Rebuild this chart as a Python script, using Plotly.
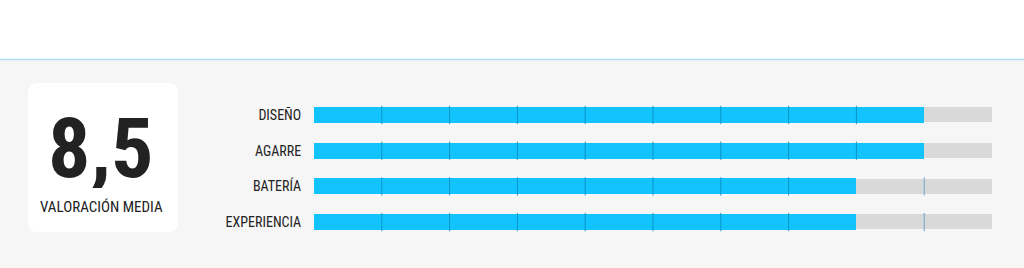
import plotly.graph_objects as go

categories = ["DISEÑO", "AGARRE", "BATERÍA", "EXPERIENCIA"]
scores = [9, 9, 8, 8]
max_score = 10
divider_steps = [1, 2, 3, 4, 5, 6, 7, 8, 9]
summary_label = "VALORACIÓN MEDIA"

W, H = 1024, 268
FONT = "Liberation Sans Narrow, Roboto Condensed, DejaVu Sans Condensed, Arial Narrow, sans-serif"
BLUE = "#12c3fd"
TRACK = "#d9d9d9"
BG = "#f6f6f6"

def px(x):
    return x / W

def py(y):
    return (H - y) / H

avg = sum(scores) / len(scores)
avg_text = f"{avg:.1f}".replace(".", ",")

fig = go.Figure()

# grey track
fig.add_trace(go.Bar(
    y=categories, x=[max_score] * len(categories), orientation="h",
    marker=dict(color=TRACK, line=dict(width=0)), width=0.42,
    hoverinfo="skip", showlegend=False,
))
# blue score bars
fig.add_trace(go.Bar(
    y=categories, x=scores, orientation="h",
    marker=dict(color=BLUE, line=dict(width=0)), width=0.45,
    showlegend=False,
))

# dividers
dx, dy, dc = [], [], []
for cat, s in zip(categories, scores):
    for step in divider_steps:
        if step == s:
            continue
        dx.append(step)
        dy.append(cat)
        dc.append("#0a93c6" if step < s else "#6aa7cc")
fig.add_trace(go.Scatter(
    x=dx, y=dy, mode="markers",
    marker=dict(symbol="line-ns", size=13, color=dc, line=dict(width=1, color=dc)),
    hoverinfo="skip", showlegend=False,
))

top_edge = 115 - 35.7 / 2
bot_edge = top_edge + 4 * 35.7

fig.update_layout(
    width=W, height=H,
    margin=dict(l=0, r=0, t=0, b=0),
    paper_bgcolor="white", plot_bgcolor="rgba(0,0,0,0)",
    barmode="overlay",
    bargap=0,
    font=dict(family=FONT, color="#222222"),
    xaxis=dict(domain=[px(314), px(992)], range=[0, max_score], visible=False, fixedrange=True),
    yaxis=dict(domain=[py(bot_edge), py(top_edge)], categoryorder="array",
               categoryarray=categories, autorange="reversed",
               showgrid=False, zeroline=False, showline=False,
               ticks="outside", ticklen=9, tickcolor="rgba(0,0,0,0)",
               tickfont=dict(family=FONT, size=14, color="#222222"), fixedrange=True),
    shapes=[
        dict(type="rect", xref="paper", yref="paper", x0=0, x1=1, y0=0, y1=py(59.5),
             fillcolor=BG, line=dict(width=0), layer="below"),
        dict(type="line", xref="paper", yref="paper", x0=0, x1=1, y0=py(59.5), y1=py(59.5),
             line=dict(color="#b0e0f2", width=1.5), layer="below"),
        dict(type="path", xref="paper", yref="paper", layer="below",
             path=(f"M {px(38)},{py(83)} L {px(168)},{py(83)} Q {px(178)},{py(83)} {px(178)},{py(93)} "
                   f"L {px(178)},{py(222)} Q {px(178)},{py(232)} {px(168)},{py(232)} "
                   f"L {px(38)},{py(232)} Q {px(28)},{py(232)} {px(28)},{py(222)} "
                   f"L {px(28)},{py(93)} Q {px(28)},{py(83)} {px(38)},{py(83)} Z"),
             fillcolor="white", line=dict(width=0)),
    ],
    annotations=[
        dict(text=f"<b>{avg_text}</b>", xref="paper", yref="paper", x=px(100), y=py(148),
             xanchor="center", yanchor="middle", showarrow=False, height=80, valign="middle",
             font=dict(family=FONT, size=84, color="#222222")),
        dict(text=summary_label, xref="paper", yref="paper", x=px(101), y=py(207),
             xanchor="center", yanchor="middle", showarrow=False,
             font=dict(family=FONT, size=15, color="#222222")),
    ],
)

fig.write_html("out.html")
